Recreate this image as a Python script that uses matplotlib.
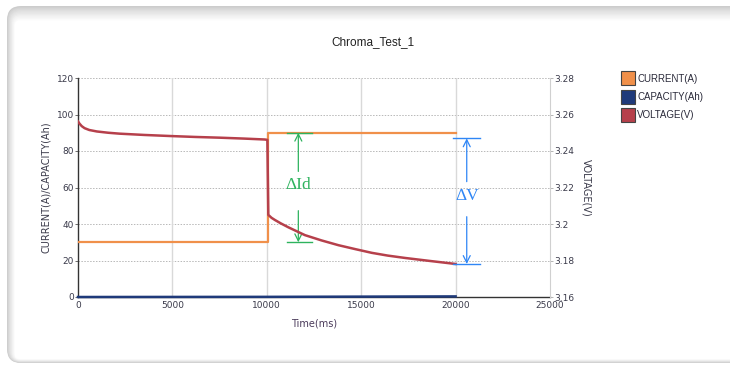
import matplotlib
matplotlib.use("Agg")
import matplotlib.pyplot as plt
import numpy as np
from matplotlib.patches import FancyBboxPatch, Rectangle

# ---------------- data ----------------
title = "Chroma_Test_1"
current_t = [0, 10050, 10050, 20000]
current_a = [30, 30, 90, 90]
capacity_t = [0, 10050, 20000]
capacity_ah = [0.0, 0.083, 0.33]
voltage_t = [0, 80, 200, 350, 600, 1000, 1600, 2200, 3500, 4900, 6200, 7500, 8800, 9900, 10030,
             10080, 10250, 10430, 10750, 11140, 12020, 12900, 13790, 14700, 15560, 16400, 17320,
             18600, 20000]
voltage_v = [3.2562, 3.2550, 3.2536, 3.2525, 3.2515, 3.2507, 3.2500, 3.2495, 3.2488, 3.2482,
             3.2477, 3.2473, 3.2468, 3.2463, 3.2461,
             3.2050, 3.2034, 3.2022, 3.2003, 3.1982, 3.1939, 3.1910, 3.1884, 3.1862, 3.1842,
             3.1827, 3.1814, 3.1798, 3.1781]
x_ticks = [0, 5000, 10000, 15000, 20000, 25000]
left_ticks = [0, 20, 40, 60, 80, 100, 120]
right_ticks = [3.16, 3.18, 3.2, 3.22, 3.24, 3.26, 3.28]
right_tick_labels = ["3.16", "3.18", "3.2", "3.22", "3.24", "3.26", "3.28"]
legend_labels = ["CURRENT(A)", "CAPACITY(Ah)", "VOLTAGE(V)"]
# annotation data
did_x, did_top, did_bot = 11670, 90, 30
dv_x, dv_top, dv_bot = 20590, 3.2469, 3.1781

c_cur = "#f0904a"
c_cap = "#1f3a7a"
c_vol = "#b6404b"
c_green = "#2eb35e"
c_blue = "#2f86f5"
txt_col = "#3a3a4a"

W, H = 730, 365
fig = plt.figure(figsize=(W / 100, H / 100), dpi=100)
fig.patch.set_facecolor("white")

# ---------------- card background (pixel-space axes) ----------------
bg = fig.add_axes([0, 0, 1, 1], zorder=-5)
bg.set_xlim(0, W)
bg.set_ylim(H, 0)
bg.axis("off")
n = 12
edge = np.array([0.80, 0.80, 0.80])
for k in range(n):
    f = (k / (n - 1)) ** 0.8
    col = edge + (1 - edge) * f
    x0 = 7 + k * 0.7
    y0 = 6 + k * 1.3
    y1 = 363 - k * 0.35
    bg.add_patch(FancyBboxPatch((x0, y0), 800, y1 - y0,
                                boxstyle="round,pad=0,rounding_size=%g" % max(14 - k * 0.8, 4),
                                facecolor=col, edgecolor="none"))

# ---------------- axes ----------------
L, R, T, B = 78, 550, 78, 297
ax = fig.add_axes([L / W, 1 - B / H, (R - L) / W, (B - T) / H])
ax.set_facecolor("none")
ax2 = ax.twinx()
ax2.set_facecolor("none")

ax.set_xlim(0, 25000)
ax.set_ylim(0, 120)
ax2.set_ylim(3.16, 3.28)

ax.set_xticks(x_ticks)
ax.set_xticklabels([str(v) for v in x_ticks])
ax.set_yticks(left_ticks)
ax.set_yticklabels([str(v) for v in left_ticks])
ax2.set_yticks(right_ticks)
ax2.set_yticklabels(right_tick_labels)

for lab in ax.get_xticklabels() + ax.get_yticklabels() + ax2.get_yticklabels():
    lab.set_fontfamily("DejaVu Sans")
    lab.set_fontsize(6.5)
    lab.set_color(txt_col)
ax.tick_params(axis="y", length=2, width=0.6, pad=1, color="#555555")
ax.tick_params(axis="x", length=0, pad=3)
ax2.tick_params(axis="y", length=2, width=0.6, pad=1, color="#aaaaaa")

# grid
for yv in left_ticks[1:]:
    ax.axhline(yv, color="#b8b8b8", lw=0.7, ls=(0, (1.5, 1.5)), zorder=0)
for xv in x_ticks[1:-1]:
    ax.axvline(xv, color="#d9d9d9", lw=1.0, zorder=0)

ax.spines["top"].set_visible(False)
ax2.spines["top"].set_visible(False)
ax.spines["right"].set_visible(False)
ax2.spines["left"].set_visible(False)
ax2.spines["bottom"].set_visible(False)
ax2.spines["right"].set_color("#d0d0d0")
ax.spines["left"].set_color("#333333")
ax.spines["bottom"].set_color("#333333")
ax.spines["left"].set_linewidth(1.0)
ax.spines["bottom"].set_linewidth(1.0)

# series
ax.plot(capacity_t, capacity_ah, color=c_cap, lw=1.8, zorder=3, clip_on=False)
ax.plot(current_t, current_a, color=c_cur, lw=1.6, zorder=3)
ax2.plot(voltage_t, voltage_v, color=c_vol, lw=1.8, zorder=3)

# labels
ax.set_xlabel("Time(ms)", fontsize=7, color="#4a3a5a", family="DejaVu Sans", labelpad=6)
ax.set_ylabel("CURRENT(A)/CAPACITY(Ah)", fontsize=7, color="#3a3a4a", family="DejaVu Sans", labelpad=4)
ax2.set_ylabel("VOLTAGE(V)", fontsize=7, color="#3a3a4a", family="DejaVu Sans", rotation=-90,
               labelpad=12)

fig.text(373 / W, 1 - 42 / H, title, ha="center", va="center", fontsize=8.5,
         family="Liberation Sans", color="#222222")

# ---------------- annotations ----------------
arrow_kw = dict(arrowstyle="->,head_length=0.5,head_width=0.25", lw=0.9, shrinkA=0, shrinkB=0)
ax.plot([11050, 12380], [did_top, did_top], color=c_green, lw=1.0, zorder=4)
ax.plot([11050, 12380], [did_bot, did_bot], color=c_green, lw=1.0, zorder=4)
ax.annotate("", xy=(did_x, did_top), xytext=(did_x, 68.8),
            arrowprops=dict(color=c_green, **arrow_kw), zorder=4)
ax.annotate("", xy=(did_x, did_bot), xytext=(did_x, 47.3),
            arrowprops=dict(color=c_green, **arrow_kw), zorder=4)
ax.text(did_x, 61.3, "ΔId", color=c_green, fontsize=12.5, family="Liberation Serif",
        ha="center", va="center", zorder=4)
ax2.plot([19870, 21290], [dv_top, dv_top], color=c_blue, lw=1.0, zorder=4)
ax2.plot([19870, 21290], [dv_bot, dv_bot], color=c_blue, lw=1.0, zorder=4)
ax2.annotate("", xy=(dv_x, dv_top), xytext=(dv_x, 3.2232),
             arrowprops=dict(color=c_blue, **arrow_kw), zorder=4)
ax2.annotate("", xy=(dv_x, dv_bot), xytext=(dv_x, 3.2040),
             arrowprops=dict(color=c_blue, **arrow_kw), zorder=4)
ax2.text(dv_x, 3.2153, "ΔV", color=c_blue, fontsize=12.5, family="Liberation Serif",
         ha="center", va="center", zorder=4)

# ---------------- legend ----------------
leg_cols = [c_cur, c_cap, c_vol]
for i, (lab, col) in enumerate(zip(legend_labels, leg_cols)):
    y0 = 71 + i * 18.5
    fig.patches.append(Rectangle((621 / W, 1 - (y0 + 14) / H), 14 / W, 14 / H,
                                 transform=fig.transFigure, facecolor=col,
                                 edgecolor="#444444", lw=0.8, zorder=5))
    fig.text(637 / W, 1 - (y0 + 7.5) / H, lab, ha="left", va="center", fontsize=7,
             family=["Liberation Sans Narrow", "Liberation Sans"], color="#2a2a3a")

fig.savefig("out.png", dpi=100, facecolor="white")
